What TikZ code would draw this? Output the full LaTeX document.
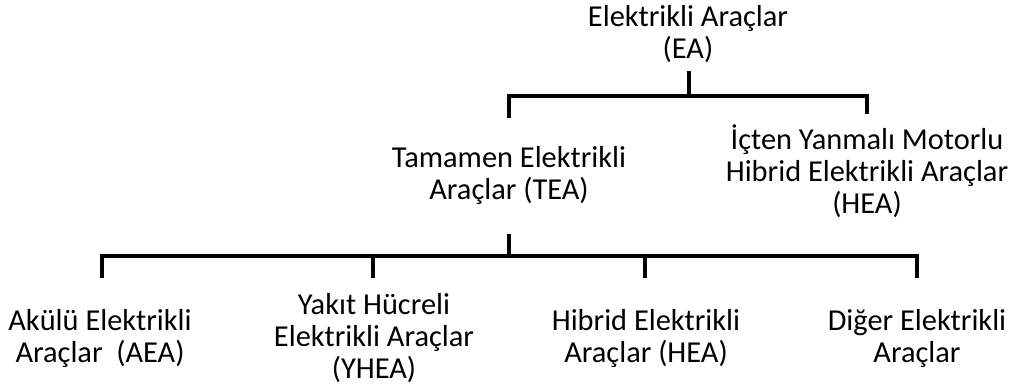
\documentclass[tikz,border=0pt]{standalone}
\usepackage{fontspec}
\setmainfont{Carlito}
\begin{document}
\begin{tikzpicture}[x=1bp,y=-1bp,
  lbl/.style={align=center, inner sep=0pt, anchor=base, text=black,
    font=\fontsize{30.5}{32}\selectfont},
  conn/.style={line width=3.6bp, draw=black, line join=miter}]
\useasboundingbox (0,0) rectangle (1013,389);

% labels, placed by the baseline of their last line
\node[lbl] (ea)   at (688,58)  {Elektrikli Araçlar\\(EA)};
\node[lbl] (tea)  at (509,199) {Tamamen Elektrikli\\Araçlar (TEA)};
\node[lbl] (iceh) at (867,213) {İçten Yanmalı Motorlu\\Hibrid Elektrikli Araçlar\\(HEA)};
\node[lbl] (aea)  at (100,362) {Akülü Elektrikli\\Araçlar\ \ (AEA)};
\node[lbl] (yhea) at (374,378) {Yakıt Hücreli\\Elektrikli Araçlar\\(YHEA)};
\node[lbl] (hea)  at (646,362) {Hibrid Elektrikli\\Araçlar (HEA)};
\node[lbl] (oth)  at (917,362) {Diğer Elektrikli\\Araçlar};

% junctions of the two branch levels
\coordinate (busA) at (689,96);
\coordinate (busB) at (509,256);

% first level
\draw[conn, shorten <=9bp] (ea.south -| busA) -- (busA);
\draw[conn, shorten >=28bp] (busA) -| (tea.north);
\draw[conn, shorten >=10bp] (busA) -| (iceh.north);

% second level
\draw[conn, shorten <=30bp] (tea.south) -- (busB);
\draw[conn, shorten >=31bp] (busB) -| ([xshift=2bp]aea.north);
\draw[conn, shorten >=15bp] (busB) -| ([xshift=-1bp]yhea.north);
\draw[conn, shorten >=31bp] (busB) -| ([xshift=-1bp]hea.north);
\draw[conn, shorten >=31bp] (busB) -| (oth.north);
\end{tikzpicture}
\end{document}
